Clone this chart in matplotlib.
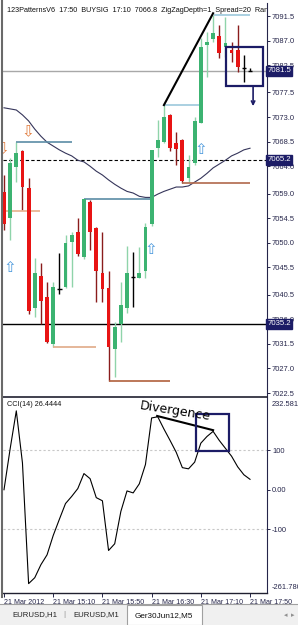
import numpy as np
import matplotlib.pyplot as plt
from matplotlib.patches import Rectangle
from matplotlib.lines import Line2D

# Ger30Jun12, M5 bars - 21 Mar 2012 14:30 .. 17:50
opens = [7059.3, 7054.5, 7063.9, 7066.8, 7060.0, 7038.1, 7043.9, 7040.0, 7031.5, 7041.5,
         7041.9, 7050.1, 7051.9, 7047.4, 7057.5, 7052.7, 7044.5, 7041.7, 7030.6, 7035.1,
         7038.1, 7043.7, 7043.6, 7044.8, 7053.4, 7067.3, 7068.4, 7073.4, 7068.3, 7068.8,
         7061.8, 7064.6, 7071.9, 7086.2, 7087.3, 7087.8, 7085.8, 7085.3, 7085.3, 7082.0, 7081.5]
highs = [7062.4, 7065.5, 7068.4, 7067.0, 7061.8, 7047.2, 7046.3, 7042.8, 7042.8, 7048.1,
         7051.4, 7051.9, 7054.5, 7058.0, 7057.8, 7052.9, 7051.9, 7044.8, 7035.5, 7042.8,
         7049.4, 7048.3, 7049.2, 7053.6, 7067.0, 7072.5, 7075.2, 7073.6, 7070.3, 7068.9,
         7066.1, 7073.0, 7087.5, 7088.5, 7091.7, 7089.9, 7091.3, 7086.8, 7089.9, 7084.4, 7082.0]
lows = [7052.3, 7050.5, 7061.1, 7056.0, 7036.9, 7036.4, 7035.1, 7031.6, 7030.9, 7040.6,
        7041.7, 7041.9, 7047.6, 7047.0, 7048.7, 7039.2, 7039.2, 7024.7, 7025.4, 7031.8,
        7037.1, 7038.2, 7043.6, 7043.6, 7053.0, 7065.7, 7068.2, 7066.8, 7064.2, 7060.9,
        7061.1, 7064.2, 7071.9, 7080.3, 7086.8, 7083.8, 7084.0, 7083.1, 7081.2, 7079.4, 7081.4]
closes = [7053.5, 7064.6, 7066.4, 7060.2, 7037.5, 7044.5, 7039.3, 7031.8, 7041.9, 7041.5,
          7049.9, 7051.4, 7047.9, 7058.0, 7052.0, 7044.8, 7041.5, 7030.9, 7034.6, 7038.6,
          7044.5, 7043.7, 7044.5, 7052.9, 7067.0, 7068.8, 7073.0, 7067.3, 7067.2, 7061.3,
          7063.9, 7072.3, 7085.8, 7086.8, 7088.4, 7084.7, 7086.5, 7084.7, 7082.2, 7082.0, 7081.5]

ma_vals = [7074.7, 7074.5, 7074.3, 7073.4, 7072.3, 7070.8, 7069.5, 7068.4, 7067.7, 7067.0,
           7066.4, 7065.9, 7065.1, 7064.8, 7064.0, 7063.1, 7062.4, 7061.5, 7060.7, 7060.0,
           7059.4, 7059.1, 7058.5, 7058.3, 7058.3, 7058.9, 7059.4, 7059.8, 7060.2, 7060.2,
           7060.4, 7061.1, 7061.8, 7062.7, 7063.7, 7064.4, 7065.1, 7065.9, 7066.4, 7067.0, 7067.3]

cci_vals = [0, 104, 200, 68, -238, -223, -190, -165, -116, -75,
            -35, -17, 3, 41, 28, -20, -28, -154, -137, -55,
            -3, -8, 15, 64, 182, 185, 154, 125, 95, 56,
            53, 70, 118, 135, 148, 125, 105, 85, 58, 38, 26.4444]

price_ticks = [7091.5, 7087.0, 7082.5, 7077.5, 7073.0, 7068.5, 7064.0, 7059.0,
               7054.5, 7050.0, 7045.5, 7040.5, 7036.0, 7031.5, 7027.0, 7022.5]
marked_prices = [7081.5, 7065.2, 7035.2]
time_idx = [0, 8, 16, 24, 32, 40]
time_labels = ['21 Mar 2012', '21 Mar 15:10', '21 Mar 15:50', '21 Mar 16:30',
               '21 Mar 17:10', '21 Mar 17:50']
cci_ticks = [100, 0, -100]
cci_tick_labels = ['100', '0.00', '-100']
cci_top, cci_bottom = 232.5816, -261.780

# zigzag / pattern levels: (price, start bar, end bar, colour)
levels = [
    (7068.4, 2, 11, '#5b8ca6'),
    (7055.8, -0.5, 5.9, '#e8b08c'),
    (7058.0, 13, 24, '#5b8ca6'),
    (7030.9, 8, 15, '#e0aa88'),
    (7024.7, 17, 27, '#b0603c'),
    (7075.2, 26, 32, '#9cc8dc'),
    (7091.7, 34.2, 40, '#9cc8dc'),
    (7060.9, 29, 40, '#b0684c'),
]

W, H = 298, 625
fig = plt.figure(figsize=(W / 100, H / 100), dpi=100)
fig.patch.set_facecolor('white')


def fbox(x0, y0, x1, y1):
    return [x0 / W, 1 - y1 / H, (x1 - x0) / W, (y1 - y0) / H]


axis_col = '#25254a'
navy = '#1c1c66'
font = 'Liberation Sans'

ax = fig.add_axes(fbox(3, 3, 266.5, 397))
ax2 = fig.add_axes(fbox(3, 398, 266.5, 593))
n = len(opens)
idx = np.arange(n)

# ---------------- main price chart
ax.plot(idx, ma_vals, color='#35355a', lw=0.8, zorder=2)

for i in range(n):
    o, h, l, c = opens[i], highs[i], lows[i], closes[i]
    if c > o:
        ax.vlines(i, l, h, color='#8fd4aa', lw=1.0, zorder=3)
        ax.bar(i, c - o, bottom=o, width=0.62, color='#3cb371', zorder=4)
    elif c < o:
        ax.vlines(i, l, h, color='#8a1c1c', lw=1.0, zorder=3)
        ax.bar(i, o - c, bottom=c, width=0.62, color='#e81414', zorder=4)
    else:
        ax.vlines(i, l, h, color='black', lw=1.0, zorder=3)
        ax.hlines(o, i - 0.35, i + 0.35, color='black', lw=1.0, zorder=4)

for p, a, b, col in levels:
    ax.hlines(p, a, b, color=col, lw=1.2, zorder=3)

ax.axhline(7081.5, color='#a8a8a8', lw=1.0, zorder=1)
ax.axhline(7065.2, color='black', lw=0.8, ls=(0, (3, 2)), zorder=1)
ax.axhline(7035.2, color='black', lw=1.0, zorder=1)

# zigzag leg
ax.plot([26, 34], [7075.2, 7092.0], color='black', lw=1.5, zorder=5)

# signal arrows
ax.text(-0.2, 7067.2, '\u21e9', color='#e07a3c', fontsize=11, ha='center', va='center',
        family='DejaVu Sans', clip_on=True, zorder=6)
ax.text(3.9, 7070.4, '\u21e9', color='#e07a3c', fontsize=11, ha='center', va='center',
        family='DejaVu Sans', zorder=6)
for xi, yi in [(1.0, 7045.5), (23.9, 7048.8), (32.0, 7067.0)]:
    ax.text(xi, yi, '\u21e7', color='#4a98dc', fontsize=11, ha='center', va='center',
            family='DejaVu Sans', zorder=6)

# sell box + arrow
ax.add_patch(Rectangle((36.1, 7078.7), 6.0, 7.1, fill=False, ec=navy, lw=1.6, zorder=7))
ax.annotate('', xy=(40.5, 7075.0), xytext=(40.5, 7078.7),
            arrowprops=dict(arrowstyle='->', color=navy, lw=1.2,
                            mutation_scale=6, shrinkA=0, shrinkB=0), zorder=7)

ax.set_xlim(-0.163, 42.68)
ax.set_ylim(7021.77, 7093.88)
ax.set_xticks([])
ax.yaxis.tick_right()
ax.set_yticks(price_ticks)
ax.set_yticklabels([f'{v:.1f}' for v in price_ticks])
ax.tick_params(axis='y', direction='out', length=2, width=0.7, pad=2,
               labelsize=5.4, colors=axis_col)
for lbl in ax.get_yticklabels():
    lbl.set_family(font)
for s in ['left', 'top']:
    ax.spines[s].set_visible(False)
ax.spines['right'].set_color(axis_col)
ax.spines['bottom'].set_color('#202030')
ax.spines['bottom'].set_linewidth(1.2)

for p in marked_prices:
    ax.text(1.003, p, f'{p:.1f}', transform=ax.get_yaxis_transform(), ha='left', va='center',
            fontsize=5.6, color='white', family=font, clip_on=False, zorder=10,
            bbox=dict(boxstyle='square,pad=0.18', fc=navy, ec=navy))

header = '123PatternsV6  17:50  BUYSIG  17:10  7066.8  ZigZagDepth=1  Spread=20  Range=0'
ax.text(0.015, 0.991, header, transform=ax.transAxes, ha='left', va='top',
        fontsize=5.2, color='#111111', family=font, clip_on=True, zorder=8)

# ---------------- CCI panel
ax2.plot(idx, cci_vals, color='black', lw=0.8, zorder=3)
for v in [100, -100]:
    ax2.axhline(v, color='#c8c8c8', lw=0.8, ls=(0, (2, 2)), zorder=1)

ax2.plot([24.9, 34.0], [187, 151], color='black', lw=1.5, zorder=4)
ax2.add_patch(Rectangle((31.2, 98), 5.4, 94, fill=False, ec=navy, lw=1.6, zorder=5))
ax2.text(27.8, 199, 'Divergence', rotation=-9, ha='center', va='center', fontsize=9,
         family='DejaVu Sans', color='black', zorder=6, rotation_mode='anchor')

ax2.text(0.015, 0.985, 'CCI(14) 26.4444', transform=ax2.transAxes, ha='left', va='top',
         fontsize=5.2, color='#111111', family=font)

ax2.set_xlim(-0.163, 42.68)
ax2.set_ylim(cci_bottom, cci_top)
ax2.yaxis.tick_right()
ax2.set_yticks(cci_ticks)
ax2.set_yticklabels(cci_tick_labels)
ax2.tick_params(axis='y', direction='out', length=2, width=0.7, pad=2,
                labelsize=5.4, colors=axis_col)
ax2.set_xticks(time_idx)
ax2.set_xticklabels(time_labels)
ax2.tick_params(axis='x', direction='out', length=3, width=0.7, pad=1,
                labelsize=5.1, colors=axis_col)
for lbl in ax2.get_xticklabels():
    lbl.set_ha('left')
    lbl.set_family(font)
for lbl in ax2.get_yticklabels():
    lbl.set_family(font)
ax2.text(1.02, 0.985, '232.5816', transform=ax2.transAxes, ha='left', va='top',
         fontsize=5.4, color=axis_col, family=font, clip_on=False)
ax2.text(1.02, 0.01, '-261.780', transform=ax2.transAxes, ha='left', va='bottom',
         fontsize=5.4, color=axis_col, family=font, clip_on=False)
for s in ['left', 'top']:
    ax2.spines[s].set_visible(False)
ax2.spines['right'].set_color(axis_col)
ax2.spines['bottom'].set_color('#202030')
ax2.spines['bottom'].set_linewidth(1.0)

# ---------------- window frame and tab bar
fig.add_artist(Line2D([1.5 / W, 1.5 / W], [1 - 597 / H, 1], color='#6a6a6a', lw=1.5))
fig.add_artist(Rectangle((0, 0), 1, 1 - 604 / H, transform=fig.transFigure,
                         fc='#f0f0f0', ec='none'))
fig.add_artist(Line2D([0, 1], [1 - 604 / H] * 2, color='#a0a0a0', lw=0.8))
fig.add_artist(Rectangle((127 / W, 0), 75 / W, 1 - 604.5 / H, transform=fig.transFigure,
                         fc='white', ec='#a0a0a0', lw=0.8))
fig.text(12 / W, 1 - 615 / H, 'EURUSD,H1', fontsize=5.6, family=font, color='#222222', va='center')
fig.text(63 / W, 1 - 615 / H, '|', fontsize=6, family=font, color='#909090', va='center')
fig.text(73 / W, 1 - 615 / H, 'EURUSD,M1', fontsize=5.6, family=font, color='#222222', va='center')
fig.text(135 / W, 1 - 616 / H, 'Ger30Jun12,M5', fontsize=5.9, family=font, color='#111111', va='center')
fig.text(284 / W, 1 - 615 / H, '\u25c2', fontsize=5, family='DejaVu Sans', color='#909090', va='center')
fig.text(291 / W, 1 - 615 / H, '\u25b8', fontsize=5, family='DejaVu Sans', color='#909090', va='center')

fig.savefig('out.png', dpi=100, facecolor='white')
